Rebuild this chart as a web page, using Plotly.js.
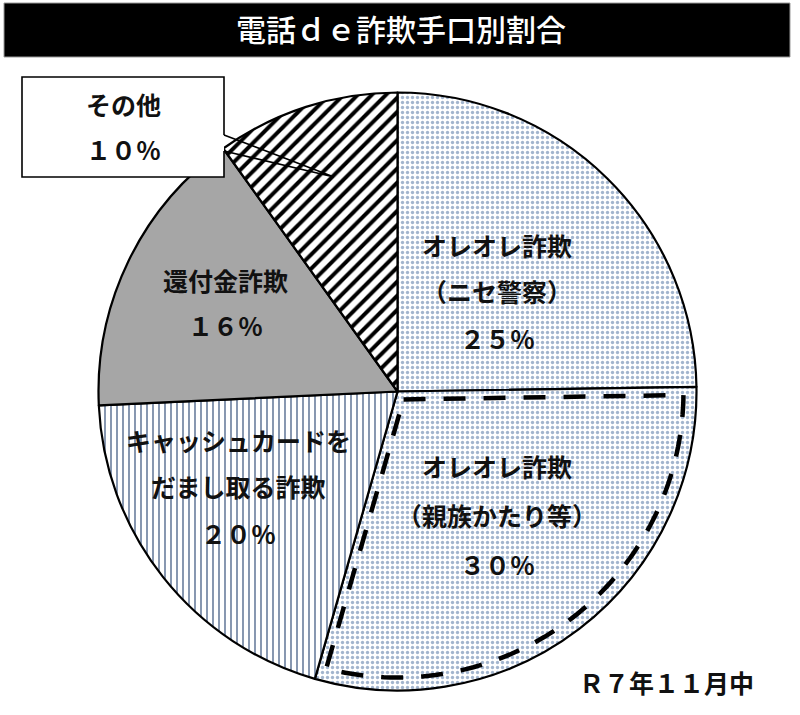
<!DOCTYPE html>
<html>
<head>
<meta charset="utf-8">
<script src="https://cdn.plot.ly/plotly-3.0.1.min.js"></script>
<style>html,body{margin:0;padding:0;background:#fff;}#chart{width:800px;height:715px;}</style>
</head>
<body>
<div id="chart"></div>
<script>
// ---- data ----
const chartTitle = '電話ｄｅ詐欺手口別割合';
const categories = ['オレオレ詐欺（ニセ警察）', 'オレオレ詐欺（親族かたり等）', 'キャッシュカードをだまし取る詐欺', '還付金詐欺', 'その他'];
const labelLines = [['オレオレ詐欺', '（ニセ警察）'], ['オレオレ詐欺', '（親族かたり等）'], ['キャッシュカードを', 'だまし取る詐欺'], ['還付金詐欺'], ['その他']];
const values = [25, 30, 20, 16, 10];
const periodNote = 'Ｒ７年１１月中';
const highlightIndex = 1;

// ---- styling / layout config ----
const W = 800, H = 715;
const X = px => px / W;
const Y = py => 1 - py / H;
const C = {x: 397.5, y: 391.5}, R = 299;
const sliceColors = ['#f7f9fc', '#f7f9fc', '#dde8f5', '#a6a6a6', '#ffffff'];
const patShapes = ['.', '.', '|', '', '/'];
const patFg = ['#a3b5ce', '#a3b5ce', '#7a8ca8', '#a6a6a6', '#000000'];
const patSize = [5, 5, 6, 8, 10];
const patSolid = [0.35, 0.35, 0.3, 0.3, 0.4];
const labelPos = [
  {x: 497, y: [245, 291, 338]},
  {x: 497, y: [466, 515, 564]},
  {x: 238, y: [440, 486, 533]},
  {x: 226, y: [280, 325]},
  {x: 123, y: [104, 149]}
];
const FONT = '"Noto Sans CJK JP", "Noto Sans", sans-serif';

const toFull = s => String(s).replace(/[0-9]/g, c => String.fromCharCode(c.charCodeAt(0) + 0xFEE0));
const pctText = v => toFull(v) + '％';

const trace = {
  type: 'pie',
  labels: categories,
  values: values,
  sort: false,
  direction: 'clockwise',
  rotation: 0,
  textinfo: 'none',
  hoverinfo: 'label+value',
  showlegend: false,
  domain: {x: [X(C.x - R), X(C.x + R)], y: [Y(C.y + R), Y(C.y - R)]},
  marker: {
    colors: sliceColors,
    line: {color: '#000000', width: 2.2},
    pattern: {shape: patShapes, fgcolor: patFg, size: patSize, solidity: patSolid, fillmode: 'replace'}
  }
};

const annotations = [];
labelLines.forEach((lines, i) => {
  const all = lines.concat([pctText(values[i])]);
  all.forEach((t, j) => {
    annotations.push({
      xref: 'paper', yref: 'paper', x: X(labelPos[i].x), y: Y(labelPos[i].y[j]),
      xanchor: 'center', yanchor: 'middle', showarrow: false,
      text: t, font: {family: FONT, size: 25, color: '#111111', weight: 700}
    });
  });
});
annotations.push({
  xref: 'paper', yref: 'paper', x: X(666), y: Y(682), xanchor: 'center', yanchor: 'middle',
  showarrow: false, text: periodNote, font: {family: FONT, size: 25, color: '#111111', weight: 700}
});

// dashed highlight outline of a slice, computed from values
const total = values.reduce((a, b) => a + b, 0);
let cum = 0;
for (let i = 0; i < highlightIndex; i++) cum += values[i];
const a1 = 2 * Math.PI * cum / total;
const a2 = 2 * Math.PI * (cum + values[highlightIndex]) / total;
const ri = R - 13, d = 8;
const half = (a2 - a1) / 2, am = (a1 + a2) / 2;
const cd = d / Math.sin(half);
const dir = a => [Math.sin(a), -Math.cos(a)];
const corner = [C.x + cd * dir(am)[0], C.y + cd * dir(am)[1]];
const delta = Math.asin(d / ri);
let pts = [corner];
const N = 80;
for (let k = 0; k <= N; k++) {
  const a = (a1 + delta) + (a2 - a1 - 2 * delta) * k / N;
  pts.push([C.x + ri * dir(a)[0], C.y + ri * dir(a)[1]]);
}
const hlPath = 'M' + pts.map(p => X(p[0]).toFixed(5) + ',' + Y(p[1]).toFixed(5)).join(' L') + ' Z';

const shapes = [
  // title bar
  {type: 'rect', xref: 'paper', yref: 'paper', x0: X(4), x1: X(790), y0: Y(57), y1: Y(3),
   fillcolor: '#000000', line: {color: '#9a9a9a', width: 1}, layer: 'below'},
  // highlight dashed outline
  {type: 'path', xref: 'paper', yref: 'paper', path: hlPath,
   line: {color: '#000000', width: 4.5, dash: '22px,18px'}, fillcolor: 'rgba(0,0,0,0)'},
  // callout box for その他
  {type: 'path', xref: 'paper', yref: 'paper',
   path: 'M' + X(224) + ',' + Y(135) + ' L' + X(224) + ',' + Y(77) + ' L' + X(22) + ',' + Y(77) +
         ' L' + X(22) + ',' + Y(177) + ' L' + X(224) + ',' + Y(177) + ' L' + X(224) + ',' + Y(151),
   fillcolor: '#ffffff', line: {color: '#000000', width: 1.6}},
  {type: 'path', xref: 'paper', yref: 'paper',
   path: 'M' + X(224) + ',' + Y(135) + ' L' + X(334) + ',' + Y(177) + ' L' + X(224) + ',' + Y(151),
   line: {color: '#000000', width: 1.6}}
];

const layout = {
  width: W, height: H,
  margin: {l: 0, r: 0, t: 0, b: 0},
  paper_bgcolor: '#ffffff',
  title: {text: chartTitle, x: X(401), xanchor: 'center', xref: 'paper', y: Y(30), yref: 'container', yanchor: 'middle',
          font: {family: FONT, size: 30, color: '#ffffff', weight: 500}},
  annotations: annotations,
  shapes: shapes
};

Plotly.newPlot('chart', [trace], layout, {displayModeBar: false, responsive: false});
</script>
</body>
</html>
